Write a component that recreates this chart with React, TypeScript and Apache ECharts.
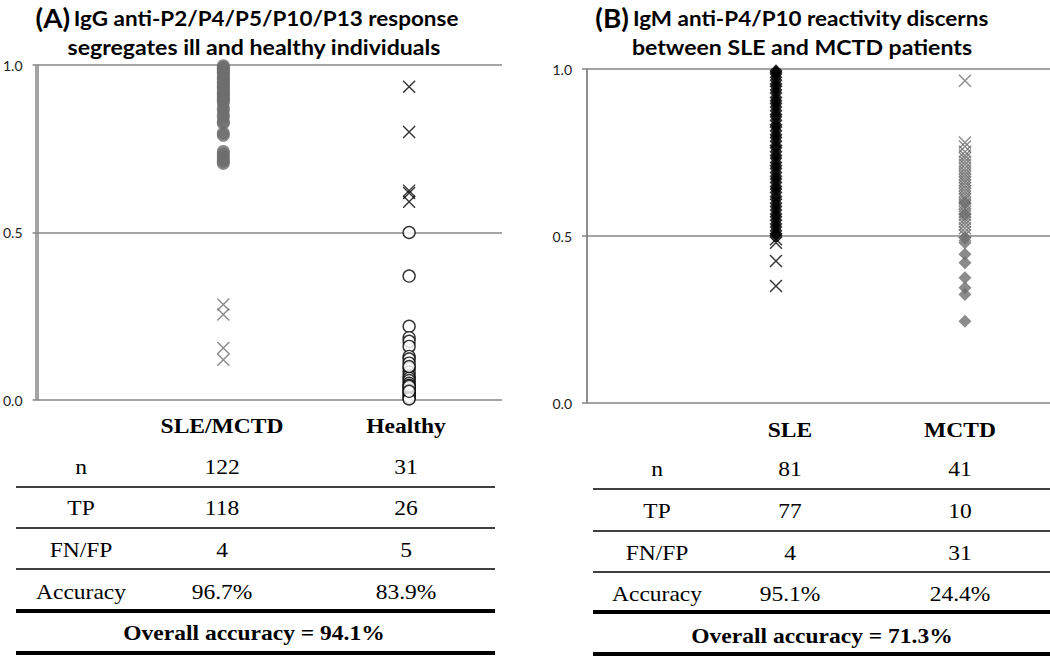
import React, { useEffect, useRef } from "react";
import * as echarts from "echarts";

// ---------- DATA ----------
const Y_MIN = 0;
const Y_MAX = 1;
const Y_INTERVAL = 0.5;

// Column positions on the hidden x value axis (1 = first group, 2 = second group)
const GROUP_X = [1, 2];
const X_MAX_A = 2.5;
const X_MAX_B = 2.45;

// Panel A (group 0 = SLE/MCTD, group 1 = Healthy)
const aSleTP = [0.998, 0.993, 0.99, 0.984, 0.979, 0.976, 0.969, 0.962, 0.958, 0.951, 0.947, 0.94, 0.936, 0.931, 0.925, 0.918, 0.914, 0.909, 0.903, 0.897, 0.893, 0.887, 0.872, 0.866, 0.851, 0.845, 0.83, 0.826, 0.797, 0.79, 0.742, 0.735, 0.727, 0.718, 0.712, 0.706];
const aSleFN = [0.285, 0.255, 0.155, 0.12];
const aHealthyFP = [0.935, 0.8, 0.625, 0.618, 0.592];
const aHealthyTP = [0.5, 0.37, 0.22, 0.186, 0.175, 0.16, 0.13, 0.122, 0.11, 0.095, 0.083, 0.072, 0.065, 0.058, 0.05, 0.044, 0.037, 0.03, 0.024, 0.018, 0.012, 0.007, 0.003, 0.1, 0.041, 0.026];

// Panel B (group 0 = SLE, group 1 = MCTD)
const bSleTP = [0.995, 0.99, 0.985, 0.975, 0.966, 0.955, 0.948, 0.937, 0.928, 0.915, 0.905, 0.897, 0.886, 0.875, 0.864, 0.857, 0.846, 0.833, 0.826, 0.815, 0.803, 0.795, 0.784, 0.771, 0.764, 0.752, 0.741, 0.733, 0.72, 0.71, 0.702, 0.69, 0.679, 0.671, 0.66, 0.648, 0.641, 0.63, 0.618, 0.61, 0.598, 0.588, 0.578, 0.566, 0.558, 0.547, 0.536, 0.527, 0.516, 0.507, 0.501];
const bSleFN = [0.49, 0.48, 0.425, 0.35];
const bMctdTP = [0.6, 0.565, 0.495, 0.48, 0.445, 0.42, 0.375, 0.345, 0.325, 0.245];
const bMctdFP = [0.965, 0.78, 0.768, 0.752, 0.741, 0.733, 0.722, 0.713, 0.703, 0.694, 0.685, 0.677, 0.668, 0.66, 0.651, 0.643, 0.634, 0.626, 0.617, 0.609, 0.598, 0.59, 0.581, 0.572, 0.563, 0.552, 0.543, 0.534, 0.523, 0.512, 0.502];

// Tables
const rowLabels = ["n", "TP", "FN/FP", "Accuracy"];
const headersA = ["SLE/MCTD", "Healthy"];
const valuesA = [["122", "31"], ["118", "26"], ["4", "5"], ["96.7%", "83.9%"]];
const overallA = "Overall accuracy = 94.1%";
const headersB = ["SLE", "MCTD"];
const valuesB = [["81", "41"], ["77", "10"], ["4", "31"], ["95.1%", "24.4%"]];
const overallB = "Overall accuracy = 71.3%";

const titleA = ["(A)", "IgG anti-P2/P4/P5/P10/P13 response", "segregates ill and healthy individuals"];
const titleB = ["(B)", "IgM anti-P4/P10 reactivity discerns", "between SLE and MCTD patients"];

// ---------- LAYOUT / STYLE ----------
const GRID_A = { left: 36, top: 65, width: 466, height: 335 };
const GRID_B = { left: 587, top: 69, width: 463, height: 334 };
const GRAY = "#6e6e6e";
const GRID_GRAY = "#868686";
const X_PATH = "path://M0,0L10,10M10,0L0,10";

const pts = (g: number, arr: number[]) => arr.map((v) => [GROUP_X[g], v]);

function xSeries(axis: number, data: number[][], color: string, z = 2) {
  return {
    type: "scatter",
    xAxisIndex: axis,
    yAxisIndex: axis,
    data,
    symbol: X_PATH,
    symbolSize: 12,
    z,
    itemStyle: { color: "rgba(0,0,0,0)", borderColor: color, borderWidth: 1.4 },
  };
}

function tableGraphics(cfg: any, headers: string[], values: string[][], overall: string) {
  const els: any[] = [];
  const serif = "'Liberation Serif', 'Times New Roman', serif";
  const txt = (text: string, x: number, y: number, bold: boolean) => ({
    type: "text",
    x,
    y,
    scaleX: 1.12,
    style: {
      text,
      fontFamily: serif,
      fontSize: 21,
      fontWeight: bold ? "bold" : "normal",
      fill: "#000",
      align: "center",
      verticalAlign: "middle",
      textAlign: "center",
      textVerticalAlign: "middle",
    },
  });
  headers.forEach((h, i) => els.push(txt(h, cfg.colX[i], cfg.headerY, true)));
  rowLabels.forEach((lab, r) => {
    els.push(txt(lab, cfg.labelX, cfg.rowY[r], false));
    values[r].forEach((v, c) => els.push(txt(v, cfg.colX[c], cfg.rowY[r], false)));
  });
  els.push(txt(overall, cfg.overallX, cfg.overallY, true));
  cfg.thinY.forEach((y: number) =>
    els.push({ type: "line", shape: { x1: cfg.x1, y1: y, x2: cfg.x2, y2: y }, style: { stroke: "#000", lineWidth: 1.5 } })
  );
  cfg.thickY.forEach((y: number) =>
    els.push({ type: "line", shape: { x1: cfg.x1, y1: y, x2: cfg.x2, y2: y }, style: { stroke: "#000", lineWidth: 4 } })
  );
  return els;
}

function titleGraphics(t: string[], x1: number, x2: number) {
  const sans = "Lato, 'Open Sans', sans-serif";
  return [
    {
      type: "text",
      x: x1,
      y: 18,
      scaleX: 1.07,
      style: {
        text: `{a|${t[0]}} {b|${t[1]}}`,
        align: "center",
        verticalAlign: "middle",
        textAlign: "center",
        textVerticalAlign: "middle",
        rich: {
          a: { fontFamily: sans, fontSize: 26, fontWeight: "bold", fill: "#000" },
          b: { fontFamily: sans, fontSize: 21, fontWeight: "bold", fill: "#000" },
        },
      },
    },
    {
      type: "text",
      x: x2,
      y: 47,
      scaleX: 1.1,
      style: {
        text: t[2],
        fontFamily: sans,
        fontSize: 21,
        fontWeight: "bold",
        fill: "#000",
        align: "center",
        verticalAlign: "middle",
        textAlign: "center",
        textVerticalAlign: "middle",
      },
    },
  ];
}

// vertical axis line along a grid's left edge
function axisLineGraphic(g: { left: number; top: number; height: number }) {
  return {
    type: "line",
    z: 5,
    shape: { x1: g.left, y1: g.top, x2: g.left, y2: g.top + g.height },
    style: { stroke: GRID_GRAY, lineWidth: 1.5 },
  };
}

function yAxis(gridIndex: number) {
  return {
    type: "value",
    gridIndex,
    min: Y_MIN,
    max: Y_MAX,
    interval: Y_INTERVAL,
    axisLine: { show: true, onZero: false, lineStyle: { color: GRID_GRAY, width: 1.5 } },
    axisTick: { show: true, length: 5, lineStyle: { color: GRID_GRAY, width: 1.5 } },
    axisLabel: {
      margin: 15,
      formatter: (v: number) => v.toFixed(1),
      color: "#222",
      fontSize: 14,
      fontFamily: "Lato, 'Open Sans', sans-serif",
    },
    splitLine: { show: true, lineStyle: { color: GRID_GRAY, width: 1.5 } },
  };
}

function xAxis(gridIndex: number, max: number) {
  return {
    type: "value",
    gridIndex,
    min: 0,
    max,
    interval: max,
    axisLine: { show: false },
    axisTick: { show: false },
    axisLabel: { show: false },
    splitLine: { show: false },
  };
}

export default function App() {
  const ref = useRef<HTMLDivElement>(null);
  useEffect(() => {
    if (!ref.current) return;
    const chart = echarts.init(ref.current, null, { renderer: "svg" });
    const option: any = {
      animation: false,
      backgroundColor: "#fff",
      grid: [GRID_A, GRID_B],
      xAxis: [xAxis(0, X_MAX_A), xAxis(1, X_MAX_B)],
      yAxis: [yAxis(0), yAxis(1)],
      series: [
        {
          type: "scatter",
          xAxisIndex: 0,
          yAxisIndex: 0,
          data: pts(0, aSleTP),
          symbol: "circle",
          symbolSize: 13,
          itemStyle: { color: GRAY },
        },
        xSeries(0, pts(0, aSleFN), GRAY),
        xSeries(0, pts(1, aHealthyFP), "#000"),
        {
          type: "scatter",
          xAxisIndex: 0,
          yAxisIndex: 0,
          data: pts(1, aHealthyTP),
          symbol: "circle",
          symbolSize: 12,
          itemStyle: { color: "#fff", borderColor: "#000", borderWidth: 1.4 },
        },
        xSeries(1, pts(0, bSleFN), "#000"),
        {
          type: "scatter",
          xAxisIndex: 1,
          yAxisIndex: 1,
          data: pts(0, bSleTP),
          symbol: "diamond",
          symbolSize: 13,
          itemStyle: { color: "#000" },
        },
        {
          type: "scatter",
          xAxisIndex: 1,
          yAxisIndex: 1,
          data: pts(1, bMctdTP),
          symbol: "diamond",
          symbolSize: 13,
          itemStyle: { color: GRAY },
        },
        xSeries(1, pts(1, bMctdFP), GRAY, 3),
      ],
      graphic: [
        axisLineGraphic(GRID_A),
        axisLineGraphic(GRID_B),
        ...titleGraphics(titleA, 247, 254),
        ...titleGraphics(titleB, 792, 802),
        ...tableGraphics(
          {
            x1: 16, x2: 495, labelX: 81, colX: [222, 406], headerY: 426,
            rowY: [467, 508, 550, 592], thinY: [487, 528, 569], thickY: [611, 653],
            overallX: 254, overallY: 633,
          },
          headersA, valuesA, overallA
        ),
        ...tableGraphics(
          {
            x1: 593, x2: 1050, labelX: 657, colX: [790, 960], headerY: 430,
            rowY: [469, 511, 553, 594], thinY: [489, 531, 572], thickY: [612, 654],
            overallX: 822, overallY: 636,
          },
          headersB, valuesB, overallB
        ),
      ],
    };
    chart.setOption(option);
    return () => chart.dispose();
  }, []);
  return (
    <div
      ref={ref}
      style={{ position: "absolute", left: 0, top: 0, width: 1050, height: 656, background: "#fff" }}
    />
  );
}
